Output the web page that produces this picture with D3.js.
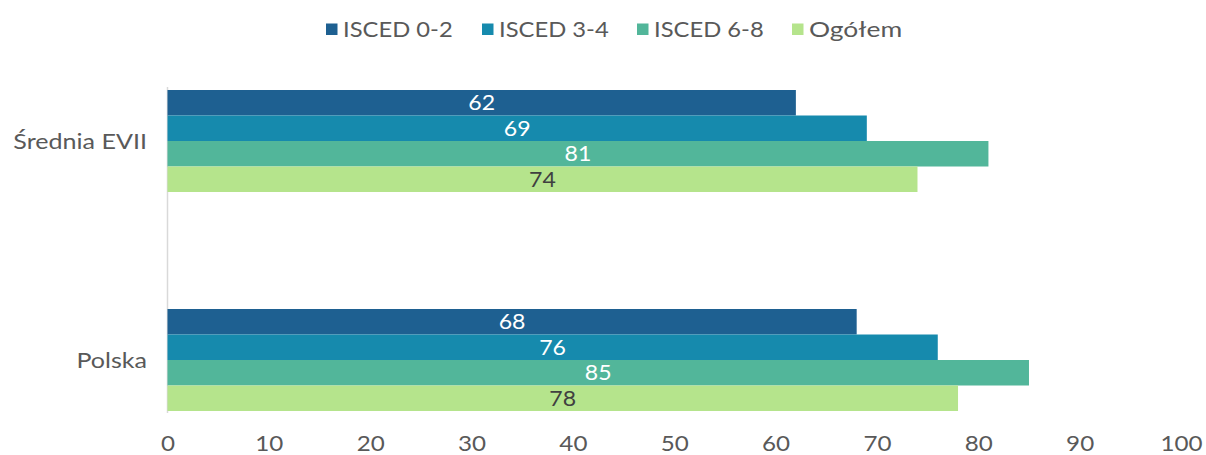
<!DOCTYPE html>
<html><head><meta charset="utf-8">
<script src="https://cdn.jsdelivr.net/npm/d3@7"></script>
<style>body{margin:0;background:#fff}svg{display:block}text{font-family:Lato,"Noto Sans",sans-serif;font-weight:400}</style>
</head><body><svg id="c" width="1206" height="455"></svg>
<script>
const categories = ["Średnia EVII", "Polska"];
const seriesNames = ["ISCED 0-2", "ISCED 3-4", "ISCED 6-8", "Ogółem"];
const isced02 = [62, 68];
const isced34 = [69, 76];
const isced68 = [81, 85];
const ogolem = [74, 78];
const xTicks = [0, 10, 20, 30, 40, 50, 60, 70, 80, 90, 100];
const colors = ["#1e6091", "#168aad", "#52b69a", "#b5e48c"];
const labelColors = ["#ffffff", "#ffffff", "#ffffff", "#404040"];
const series = [isced02, isced34, isced68, ogolem];

// layout constants: horizontal stretch to mimic the original's wide font
const legendX = [326, 482, 637, 792];
const stretch = 1.1;

const svg = d3.select("#c");
const x = d3.scaleLinear().domain([0, 100]).range([167.5, 1181]);
const y = d3.scalePoint().domain(categories).range([141, 360]);
const inner = d3.scaleBand().domain(seriesNames).range([-51, 51]);
const gray = "#595959";

function widen(sel, f) {
  sel.each(function() {
    const w = this.getComputedTextLength();
    d3.select(this).attr("textLength", w * f).attr("lengthAdjust", "spacingAndGlyphs");
  });
}

svg.append("line").attr("x1", 167.5).attr("x2", 167.5).attr("y1", 87).attr("y2", 413)
  .attr("stroke", "#d9d9d9").attr("stroke-width", 1.5);

const g = svg.append("g");
categories.forEach((c, ci) => {
  series.forEach((s, si) => {
    const y0 = y(c) + inner(seriesNames[si]);
    g.append("rect").attr("x", x(0)).attr("y", y0).attr("width", x(s[ci]) - x(0))
      .attr("height", inner.bandwidth()).attr("fill", colors[si]);
    const t = g.append("text").attr("x", (x(0) + x(s[ci])) / 2).attr("y", y0 + inner.bandwidth() / 2)
      .attr("dy", "0.36em").attr("text-anchor", "middle").attr("font-size", 21)
      .attr("fill", labelColors[si]).text(s[ci]);
    widen(t, stretch);
  });
  const t = svg.append("text").attr("x", 147).attr("y", y(c)).attr("dy", "0.36em")
    .attr("text-anchor", "end").attr("font-size", 22).attr("fill", gray).text(c);
  widen(t, 1.14);
});

const xa = svg.append("g").attr("transform", "translate(0,413)")
  .call(d3.axisBottom(x).tickValues(xTicks).tickSize(0).tickPadding(22));
xa.select(".domain").remove();
xa.selectAll("text").attr("font-size", 22).attr("fill", gray)
  .style("font-family", "Lato, sans-serif");
widen(xa.selectAll("text"), stretch);

seriesNames.forEach((n, i) => {
  svg.append("rect").attr("x", legendX[i]).attr("y", 23.5).attr("width", 11.5).attr("height", 11.5).attr("fill", colors[i]);
  const t = svg.append("text").attr("x", legendX[i] + 17).attr("y", 29.5).attr("dy", "0.36em")
    .attr("font-size", 22).attr("fill", gray).text(n);
  widen(t, i === 3 ? 1.2 : 1.08);
});
</script></body></html>
